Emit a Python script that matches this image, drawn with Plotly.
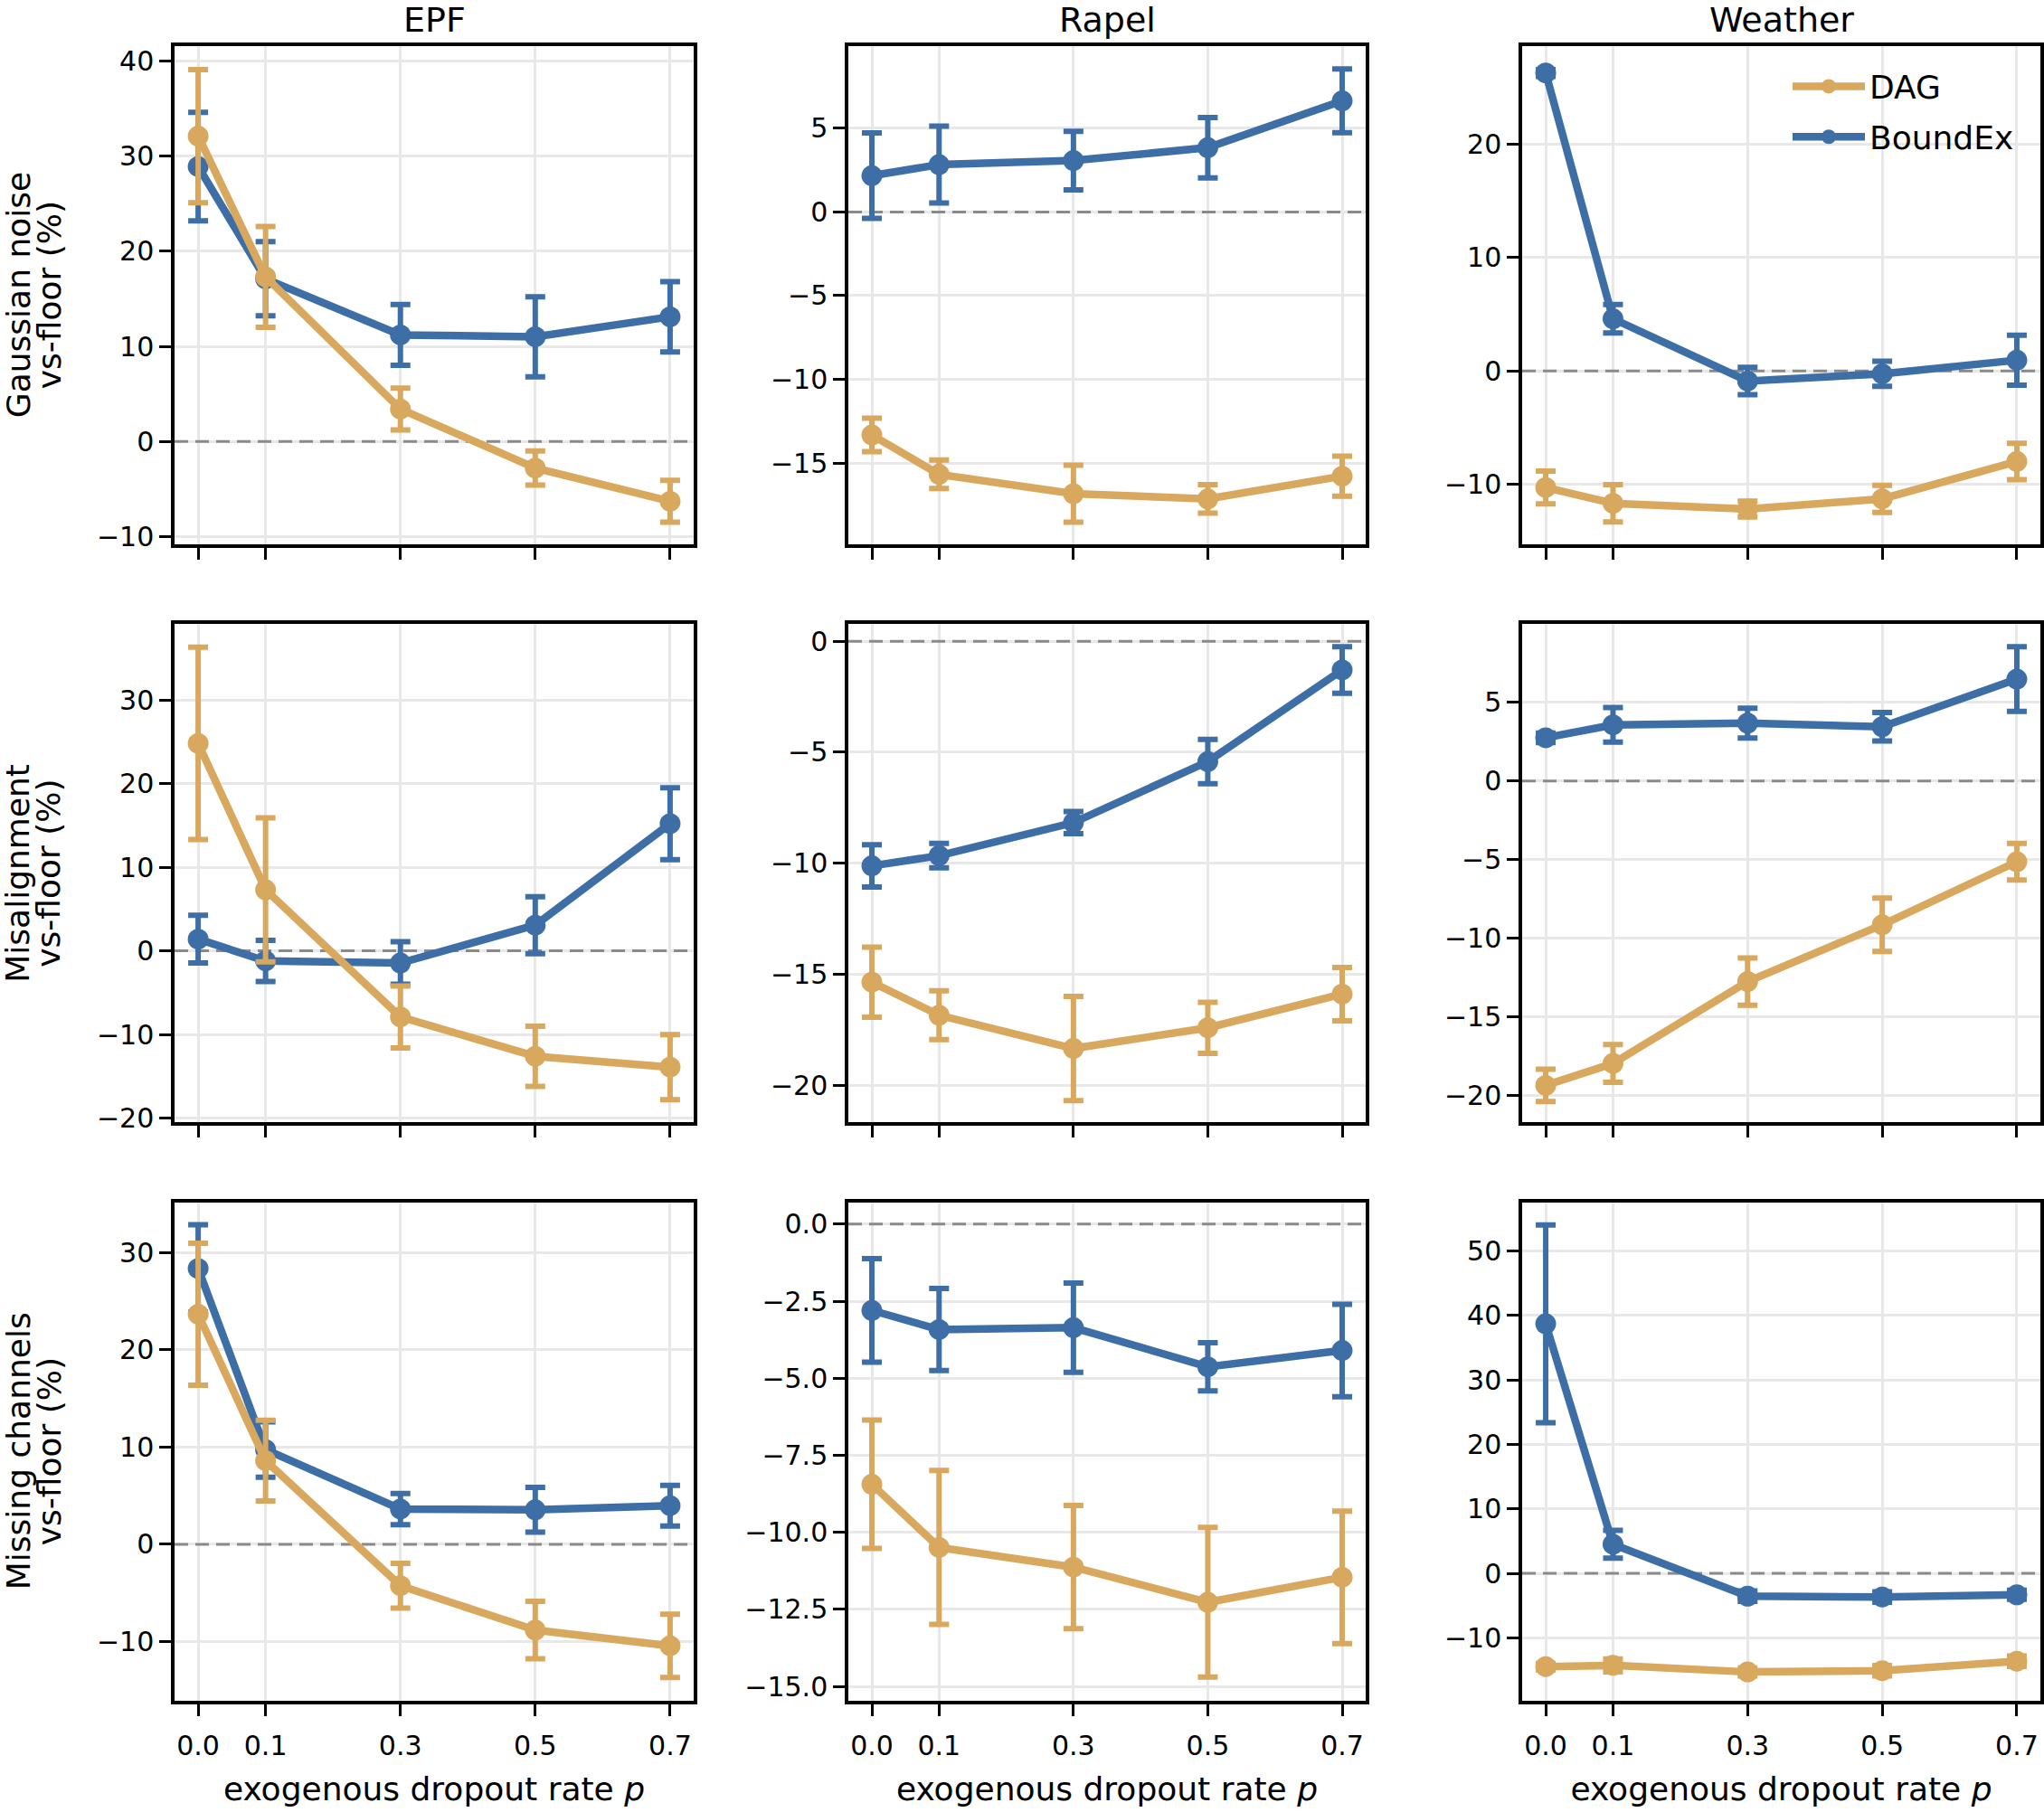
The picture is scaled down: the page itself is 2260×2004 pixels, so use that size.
import plotly.graph_objects as go
from plotly.subplots import make_subplots

# ---------------- data ----------------
p = [0.0, 0.1, 0.3, 0.5, 0.7]
p_labels = ["0.0", "0.1", "0.3", "0.5", "0.7"]
datasets = ["EPF", "Rapel", "Weather"]
perturbations = ["Gaussian noise", "Misalignment", "Missing channels"]
methods = ["DAG", "BoundEx"]
x_range = [-0.035, 0.735]
floor_level = [0.0, 0.0]  # the dashed "vs-floor = 0" reference line

# Gaussian noise
dag_gauss_epf = [32.1, 17.3, 3.4, -2.8, -6.3]
dag_gauss_epf_err = [7.0, 5.3, 2.2, 1.8, 2.2]
bx_gauss_epf = [28.9, 17.1, 11.2, 11.0, 13.1]
bx_gauss_epf_err = [5.7, 3.9, 3.2, 4.2, 3.7]
dag_gauss_rapel = [-13.33, -15.68, -16.84, -17.15, -15.79]
dag_gauss_rapel_err = [1.0, 0.85, 1.7, 0.85, 1.2]
bx_gauss_rapel = [2.17, 2.83, 3.07, 3.84, 6.64]
bx_gauss_rapel_err = [2.55, 2.3, 1.75, 1.8, 1.9]
dag_gauss_weather = [-10.3, -11.7, -12.2, -11.3, -8.0]
dag_gauss_weather_err = [1.45, 1.65, 0.7, 1.2, 1.6]
bx_gauss_weather = [26.3, 4.6, -0.9, -0.26, 0.94]
bx_gauss_weather_err = [0.3, 1.25, 1.2, 1.1, 2.2]

# Misalignment
dag_mis_epf = [24.8, 7.3, -7.9, -12.6, -13.9]
dag_mis_epf_err = [11.5, 8.6, 3.7, 3.6, 3.9]
bx_mis_epf = [1.4, -1.2, -1.45, 3.07, 15.2]
bx_mis_epf_err = [2.85, 2.45, 2.55, 3.4, 4.3]
dag_mis_rapel = [-15.36, -16.85, -18.35, -17.42, -15.9]
dag_mis_rapel_err = [1.58, 1.1, 2.35, 1.15, 1.2]
bx_mis_rapel = [-10.12, -9.66, -8.17, -5.42, -1.29]
bx_mis_rapel_err = [0.95, 0.55, 0.5, 1.0, 1.05]
dag_mis_weather = [-19.35, -17.95, -12.75, -9.14, -5.13]
dag_mis_weather_err = [1.03, 1.2, 1.5, 1.7, 1.17]
bx_mis_weather = [2.75, 3.57, 3.68, 3.45, 6.48]
bx_mis_weather_err = [0.3, 1.1, 0.95, 0.9, 2.05]

# Missing channels
dag_miss_epf = [23.67, 8.6, -4.26, -8.83, -10.45]
dag_miss_epf_err = [7.3, 4.15, 2.3, 2.95, 3.25]
bx_miss_epf = [28.36, 9.74, 3.62, 3.54, 3.97]
bx_miss_epf_err = [4.5, 2.85, 1.6, 2.3, 2.1]
dag_miss_rapel = [-8.44, -10.49, -11.13, -12.27, -11.46]
dag_miss_rapel_err = [2.08, 2.5, 2.0, 2.43, 2.15]
bx_miss_rapel = [-2.8, -3.42, -3.36, -4.63, -4.1]
bx_miss_rapel_err = [1.68, 1.33, 1.45, 0.78, 1.5]
dag_miss_weather = [-14.47, -14.28, -15.3, -15.1, -13.63]
dag_miss_weather_err = [0.5, 1.0, 0.6, 0.8, 0.8]
bx_miss_weather = [38.7, 4.5, -3.54, -3.67, -3.34]
bx_miss_weather_err = [15.35, 2.15, 0.8, 0.8, 0.7]

# y tick values per panel (row-major)
yticks = [
    [-10, 0, 10, 20, 30, 40],
    [-15, -10, -5, 0, 5],
    [-10, 0, 10, 20],
    [-20, -10, 0, 10, 20, 30],
    [-20, -15, -10, -5, 0],
    [-20, -15, -10, -5, 0, 5],
    [-10, 0, 10, 20, 30],
    [-15.0, -12.5, -10.0, -7.5, -5.0, -2.5, 0.0],
    [-10, 0, 10, 20, 30, 40, 50],
]
yranges = [
    [-10.8, 41.6], [-19.85, 9.93], [-15.3, 28.7],
    [-20.5, 39.07], [-21.68, 0.78], [-21.7, 9.98],
    [-16.08, 35.18], [-15.46, 0.71], [-19.74, 57.56],
]

panels = [
    [(dag_gauss_epf, dag_gauss_epf_err, bx_gauss_epf, bx_gauss_epf_err),
     (dag_gauss_rapel, dag_gauss_rapel_err, bx_gauss_rapel, bx_gauss_rapel_err),
     (dag_gauss_weather, dag_gauss_weather_err, bx_gauss_weather, bx_gauss_weather_err)],
    [(dag_mis_epf, dag_mis_epf_err, bx_mis_epf, bx_mis_epf_err),
     (dag_mis_rapel, dag_mis_rapel_err, bx_mis_rapel, bx_mis_rapel_err),
     (dag_mis_weather, dag_mis_weather_err, bx_mis_weather, bx_mis_weather_err)],
    [(dag_miss_epf, dag_miss_epf_err, bx_miss_epf, bx_miss_epf_err),
     (dag_miss_rapel, dag_miss_rapel_err, bx_miss_rapel, bx_miss_rapel_err),
     (dag_miss_weather, dag_miss_weather_err, bx_miss_weather, bx_miss_weather_err)],
]

# ---------------- style ----------------
W, H = 2260, 2004
DAG_C = "#D8A85E"
BX_C = "#3D6EA5"
FONT = "DejaVu Sans"
TICK_FS = 30
LABEL_FS = 36
TITLE_FS = 38

col_px = [(193, 767), (938, 1510), (1683, 2256)]
row_px = [(50, 605), (694, 1249), (1338, 1893)]


def fmt_tick(v):
    if isinstance(v, float):
        s = f"{abs(v):.1f}"
    else:
        s = f"{abs(v)}"
    return ("\u2212" + s) if v < 0 else s


fig = make_subplots(rows=3, cols=3)

for r in range(3):
    for c in range(3):
        dag, dag_e, bx, bx_e = panels[r][c]
        first = (r == 0 and c == 0)
        # dashed zero reference line (drawn first, beneath the series)
        fig.add_trace(
            go.Scatter(
                x=x_range, y=floor_level, mode="lines", showlegend=False,
                hoverinfo="skip", cliponaxis=True,
                line=dict(color="#8a8a8a", width=3, dash="15px,8px"),
            ),
            row=r + 1, col=c + 1,
        )
        for name, ys, es, col in [("BoundEx", bx, bx_e, BX_C), ("DAG", dag, dag_e, DAG_C)]:
            fig.add_trace(
                go.Scatter(
                    x=p, y=ys, name=name, mode="lines+markers",
                    line=dict(color=col, width=8.5),
                    marker=dict(color=col, size=23),
                    error_y=dict(type="data", array=es, visible=True,
                                 color=col, thickness=6, width=11),
                    showlegend=first,
                    legendgroup=name,
                    legendrank=1 if name == "DAG" else 2,
                ),
                row=r + 1, col=c + 1,
            )
        idx = r * 3 + c + 1
        xa = f"xaxis{'' if idx == 1 else idx}"
        ya = f"yaxis{'' if idx == 1 else idx}"
        x0, x1 = col_px[c]
        y0, y1 = row_px[r]
        fig.layout[xa].update(
            domain=[x0 / W, x1 / W],
            range=x_range,
            tickmode="array", tickvals=p,
            ticktext=p_labels if r == 2 else [""] * 5,
            showticklabels=(r == 2),
            ticks="outside", ticklen=13, tickwidth=3, tickcolor="black",
            ticklabelstandoff=7,
            showline=True, mirror=True, linecolor="black", linewidth=3.5,
            showgrid=True, gridcolor="#e8e8e8", gridwidth=3,
            zeroline=False,
            tickfont=dict(size=TICK_FS, family=FONT, color="black"),
        )
        if r == 2:
            fig.layout[xa].update(
                title=dict(text="exogenous dropout rate <i>p</i>",
                           font=dict(size=LABEL_FS, family=FONT, color="black"),
                           standoff=20)
            )
        yt = yticks[idx - 1]
        fig.layout[ya].update(
            domain=[1 - y1 / H, 1 - y0 / H],
            range=yranges[idx - 1],
            tickmode="array", tickvals=yt, ticktext=[fmt_tick(v) for v in yt],
            ticks="outside", ticklen=13, tickwidth=3, tickcolor="black",
            showline=True, mirror=True, linecolor="black", linewidth=3.5,
            showgrid=True, gridcolor="#e8e8e8", gridwidth=3,
            zeroline=False,
            tickfont=dict(size=TICK_FS, family=FONT, color="black"),
        )

# column titles
for c, name in enumerate(datasets):
    x0, x1 = col_px[c]
    fig.add_annotation(
        text=name, xref="paper", yref="paper",
        x=(x0 + x1) / 2 / W, y=1 - 21 / H, xanchor="center", yanchor="middle",
        showarrow=False, font=dict(size=TITLE_FS, family=FONT, color="black"),
    )

# row labels (two lines each)
for r, name in enumerate(perturbations):
    y0, y1 = row_px[r]
    for line_text, xc in [(name, 20), ("vs-floor (%)", 54)]:
        fig.add_annotation(
            text=line_text, xref="paper", yref="paper",
            x=xc / W, y=1 - (y0 + y1) / 2 / H, xanchor="center", yanchor="middle",
            textangle=-90, showarrow=False,
            font=dict(size=LABEL_FS, family=FONT, color="black"),
        )

fig.update_layout(
    width=W, height=H,
    margin=dict(l=0, r=0, t=0, b=0),
    paper_bgcolor="white", plot_bgcolor="white",
    font=dict(family=FONT, color="black"),
    legend=dict(
        x=1977 / W, y=1 - 65 / H, xanchor="left", yanchor="top",
        bgcolor="rgba(0,0,0,0)", font=dict(size=LABEL_FS, family=FONT, color="black"),
        itemwidth=80, traceorder="grouped", tracegroupgap=6,
    ),
)

fig.write_html("out.html")
